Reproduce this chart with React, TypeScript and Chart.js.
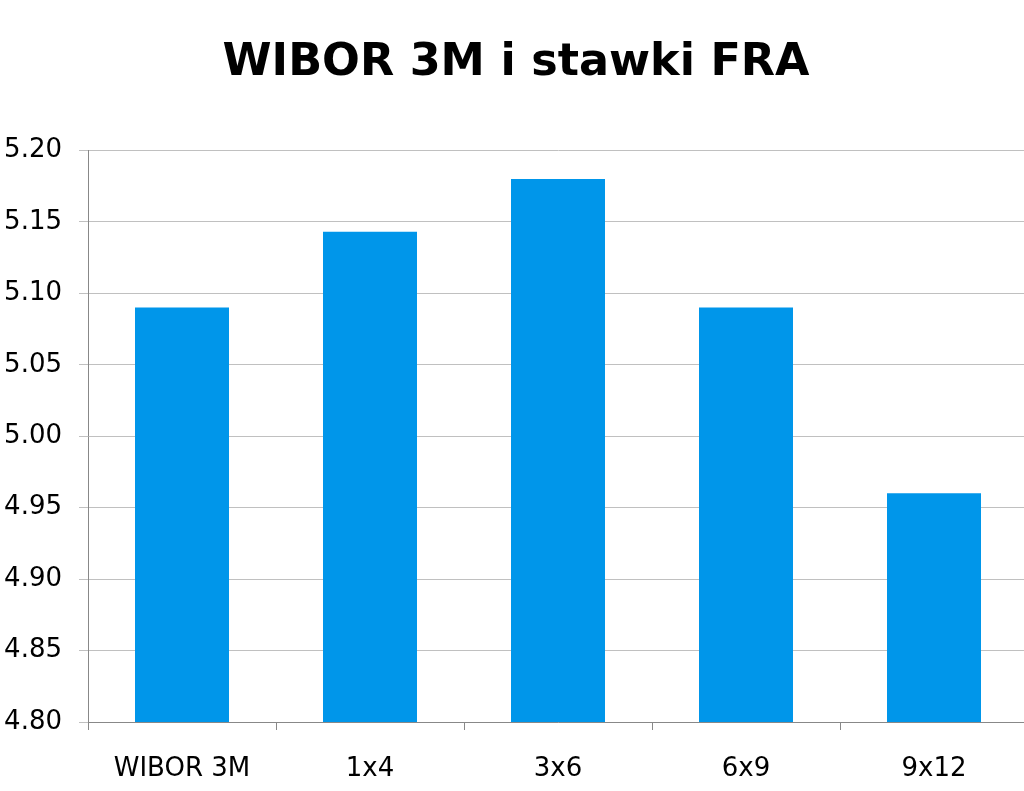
import { useEffect, useRef } from "react"
import Chart from "chart.js/auto"

const categories = ["WIBOR 3M", "1x4", "3x6", "6x9", "9x12"]
const rates = [5.09, 5.143, 5.18, 5.09, 4.96]

const yMin = 4.8
const yMax = 5.2
const yStep = 0.05

export default function App() {
  const chartRef = useRef<HTMLCanvasElement>(null)
  const chartInstance = useRef<Chart | null>(null)

  useEffect(() => {
    if (!chartRef.current) return

    if (chartInstance.current) {
      chartInstance.current.destroy()
    }

    chartInstance.current = new Chart(chartRef.current, {
      type: "bar",
      data: {
        labels: categories,
        datasets: [
          {
            label: "WIBOR 3M i stawki FRA",
            data: rates,
            backgroundColor: "#0096EA",
            barPercentage: 0.5,
            categoryPercentage: 1,
          },
        ],
      },
      options: {
        animation: false,
        responsive: false,
        maintainAspectRatio: false,
        layout: {
          padding: { left: 4, right: 0, top: 0, bottom: 9 },
        },
        scales: {
          x: {
            grid: {
              display: true,
              drawOnChartArea: false,
              offset: true,
              tickLength: 8,
              color: "#888888",
            },
            border: { color: "#888888", width: 1 },
            ticks: {
              color: "#000000",
              padding: 24,
              font: { family: "'DejaVu Sans', Tahoma, sans-serif", size: 26 },
            },
            // chart.js counts tick padding twice; keep the box tight
            afterFit: (scale) => {
              scale.paddingLeft = 0
              scale.paddingRight = 0
              scale.height = 60
            },
          },
          y: {
            min: yMin,
            max: yMax,
            grid: {
              color: "#c0c0c0",
              tickLength: 9,
            },
            border: { color: "#888888", width: 1 },
            ticks: {
              stepSize: yStep,
              color: "#000000",
              padding: 17,
              font: { family: "'DejaVu Sans', Tahoma, sans-serif", size: 26 },
              callback: (v) => Number(v).toFixed(2),
            },
            afterFit: (scale) => {
              scale.width = 84
            },
          },
        },
        plugins: {
          legend: { display: false },
          tooltip: { enabled: false },
          title: {
            display: true,
            text: "WIBOR 3M i stawki FRA",
            color: "#000000",
            font: {
              family: "'DejaVu Sans', Tahoma, sans-serif",
              size: 44.5,
              weight: "bold",
              lineHeight: 1.2,
            },
            padding: { top: 37, bottom: 60 },
          },
        },
      },
    })

    return () => {
      if (chartInstance.current) {
        chartInstance.current.destroy()
        chartInstance.current = null
      }
    }
  }, [])

  return (
    <div
      style={{
        position: "fixed",
        left: 0,
        top: 0,
        width: 1024,
        height: 791,
        overflow: "hidden",
        background: "#ffffff",
      }}
    >
      <canvas ref={chartRef} width={1028} height={791} style={{ display: "block" }}></canvas>
    </div>
  )
}
